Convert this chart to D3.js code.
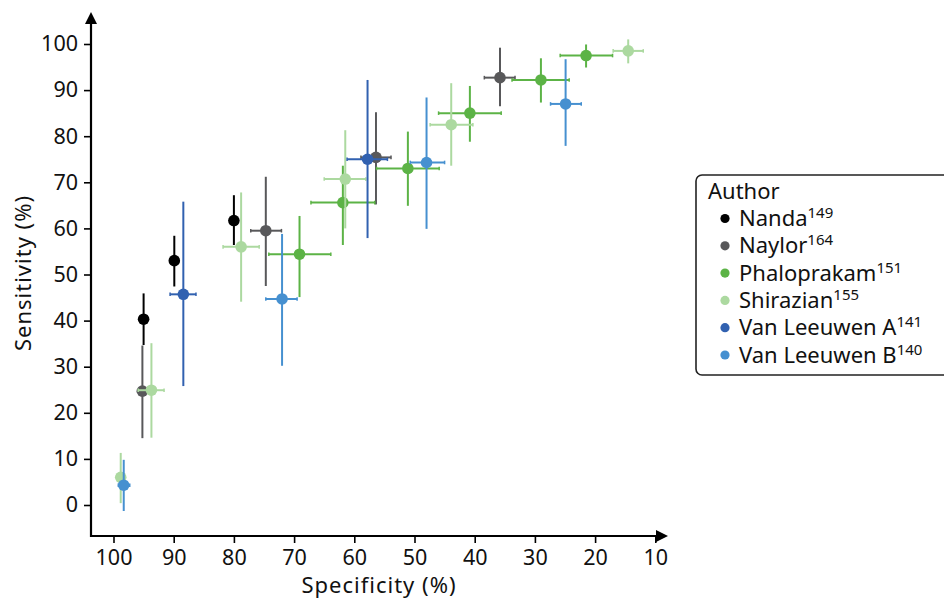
<!DOCTYPE html>
<html><head><meta charset="utf-8">
<script src="https://cdn.jsdelivr.net/npm/d3@7"></script>
<style>html,body{margin:0;padding:0;background:#fff;}svg{display:block;font-family:"Noto Sans",sans-serif;}</style>
</head><body>
<svg id="chart" width="944" height="600"></svg>
<script>
const authors = ["Nanda","Naylor","Phaloprakam","Shirazian","Van Leeuwen A","Van Leeuwen B"];
const refs = ["149","164","151","155","141","140"];
const colors = ["#000000","#58585a","#5cb346","#acd9a0","#3161b0","#4690d0"];

const pointAuthor = [0,0,0, 1,1,1,1, 2,2,2,2,2,2, 3,3,3,3,3,3, 4,4, 5,5,5,5];
const specificity = [95.0,89.9,80.0, 95.2,74.7,56.4,35.8, 69.1,61.9,51.1,40.8,29.0,21.5, 98.8,93.7,78.8,61.5,43.9,14.5, 88.4,57.8, 98.3,72.0,48.0,24.9];
const sensitivity = [40.3,53.0,61.7, 24.7,59.5,75.4,92.7, 54.4,65.6,73.0,85.0,92.2,97.5, 6.0,24.9,56.0,70.7,82.5,98.5, 45.7,75.0, 4.3,44.7,74.3,87.0];
const sensLow  = [34.7,47.4,56.4, 14.5,47.5,65.2,86.5, 45.1,56.4,64.9,78.8,87.3,94.9, 0.4,14.6,44.1,60.0,73.6,95.8, 25.8,57.9, -1.3,30.2,59.9,77.9];
const sensHigh = [45.9,58.4,67.2, 34.6,71.2,85.2,99.2, 62.7,73.6,81.0,90.9,96.9,99.9, 11.3,35.1,67.8,81.3,91.5,101.0, 65.8,92.2, 9.8,58.8,88.4,96.7];
const specLow  = [null,null,null, 94.5,72.1,53.9,33.3, 63.9,56.6,45.9,35.6,24.3,17.1, 98.4,91.6,75.8,58.1,40.3,12.0, 86.3,54.5, 97.3,69.5,45.0,22.3];
const specHigh = [null,null,null, 96.0,77.2,58.9,38.4, 74.2,67.2,56.3,46.0,33.8,25.8, 99.2,95.9,81.8,65.0,47.4,17.0, 90.6,61.2, 99.2,74.7,50.7,27.4];

const xTicks = [100,90,80,70,60,50,40,30,20,10];
const yTicks = [0,10,20,30,40,50,60,70,80,90,100];

const svg = d3.select("#chart");
svg.append("rect").attr("width",944).attr("height",600).attr("fill","#fff");

const x = d3.scaleLinear().domain([100,10]).range([113.5,655.3]);
const y = d3.scaleLinear().domain([0,100]).range([505,44]);
const axisY0 = 536, axisX0 = 91;

// axes
const gx = svg.append("g").attr("transform",`translate(0,${axisY0})`)
  .call(d3.axisBottom(x).tickValues(xTicks).tickSize(7).tickPadding(7).tickSizeOuter(0));
gx.select(".domain").remove();
gx.selectAll(".tick line").attr("stroke","#000").attr("stroke-width",1.6);
gx.selectAll(".tick text").attr("font-size",21.5).attr("fill","#111").attr("font-family","Noto Sans");

const gy = svg.append("g").attr("transform",`translate(${axisX0},0)`)
  .call(d3.axisLeft(y).tickValues(yTicks).tickSize(7).tickPadding(6).tickSizeOuter(0));
gy.select(".domain").remove();
gy.selectAll(".tick line").attr("stroke","#000").attr("stroke-width",1.6);
gy.selectAll(".tick text").attr("font-size",21.5).attr("fill","#111").attr("font-family","Noto Sans");

svg.append("line").attr("x1",axisX0).attr("x2",657).attr("y1",axisY0).attr("y2",axisY0).attr("stroke","#000").attr("stroke-width",2.2);
svg.append("line").attr("x1",axisX0).attr("x2",axisX0).attr("y1",axisY0+1).attr("y2",23).attr("stroke","#000").attr("stroke-width",2.2);
svg.append("path").attr("d",`M${axisX0-6},24 L${axisX0+6},24 L${axisX0},12 Z`).attr("fill","#000");
svg.append("path").attr("d",`M656,${axisY0-6} L656,${axisY0+6} L668,${axisY0} Z`).attr("fill","#000");

svg.append("text").attr("x",379).attr("y",593).attr("text-anchor","middle").attr("font-size",22).attr("letter-spacing",1)
  .attr("fill","#111").text("Specificity (%)");
svg.append("text").attr("transform","translate(31,273) rotate(-90)").attr("text-anchor","middle").attr("font-size",22).attr("letter-spacing",1)
  .attr("fill","#111").text("Sensitivity (%)");

// data
const idx = d3.range(specificity.length);
const plot = svg.append("g");
idx.forEach(i => {
  const c = colors[pointAuthor[i]];
  const g = plot.append("g");
  g.append("line").attr("x1",x(specificity[i])).attr("x2",x(specificity[i]))
    .attr("y1",y(sensLow[i])).attr("y2",y(sensHigh[i])).attr("stroke",c).attr("stroke-width",2);
  if (specLow[i] !== null) {
    g.append("line").attr("x1",x(specLow[i])).attr("x2",x(specHigh[i]))
      .attr("y1",y(sensitivity[i])).attr("y2",y(sensitivity[i])).attr("stroke",c).attr("stroke-width",2);
    [specLow[i],specHigh[i]].forEach(v => g.append("line").attr("x1",x(v)).attr("x2",x(v))
      .attr("y1",y(sensitivity[i])-1.8).attr("y2",y(sensitivity[i])+1.8).attr("stroke",c).attr("stroke-width",1.5));
  }
  g.append("circle").attr("cx",x(specificity[i])).attr("cy",y(sensitivity[i])).attr("r",5.8).attr("fill",c);
});

// legend
const lg = svg.append("g");
lg.append("rect").attr("x",696).attr("y",175).attr("width",270).attr("height",200).attr("rx",6)
  .attr("fill","#fff").attr("stroke","#222").attr("stroke-width",1.6);
lg.append("text").attr("x",708).attr("y",199).attr("font-size",22).attr("fill","#111").text("Author");
authors.forEach((a,i) => {
  const cy = 218.5 + i*27.3;
  lg.append("circle").attr("cx",725).attr("cy",cy).attr("r",4.6).attr("fill",colors[i]);
  const t = lg.append("text").attr("x",739).attr("y",cy+7.5).attr("font-size",22).attr("fill","#111");
  t.append("tspan").text(a);
  t.append("tspan").attr("dy",-8).attr("font-size",15).text(refs[i]);
});
</script>
</body></html>
